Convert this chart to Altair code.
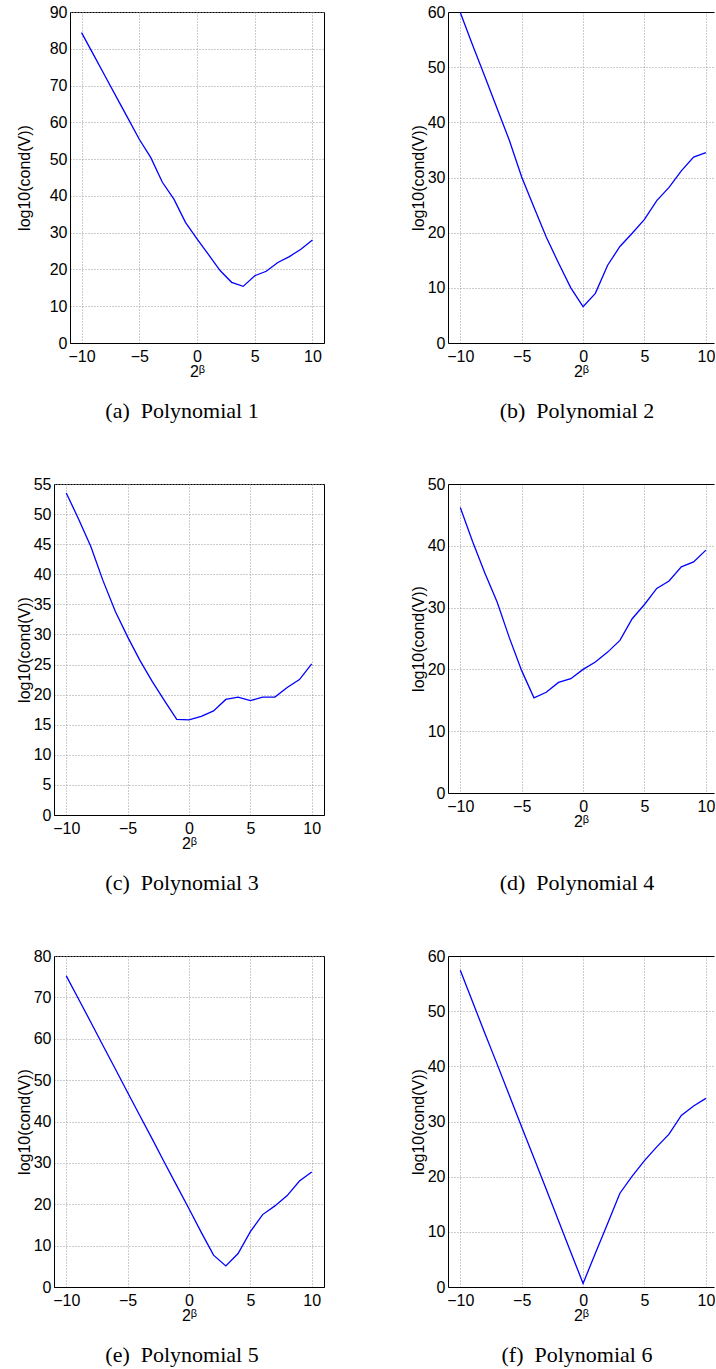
import altair as alt
import pandas as pd

beta = list(range(-10, 11))

poly1 = [84.4, 78.6, 72.8, 67.0, 61.2, 55.4, 50.4, 43.7, 39.1, 32.8, 28.3,
         24.0, 19.7, 16.5, 15.4, 18.3, 19.5, 21.9, 23.5, 25.5, 28.0]
poly2 = [59.9, 54.0, 48.3, 42.5, 36.7, 30.1, 24.6, 19.2, 14.5, 10.0, 6.6,
         9.0, 14.1, 17.5, 19.9, 22.4, 25.8, 28.2, 31.2, 33.7, 34.5]
poly3 = [53.5, 49.2, 44.6, 38.9, 33.8, 29.6, 25.7, 22.2, 19.0, 15.9, 15.8,
         16.4, 17.3, 19.2, 19.6, 19.0, 19.6, 19.6, 21.2, 22.5, 25.1]
poly4 = [46.2, 40.7, 35.6, 30.9, 25.1, 19.8, 15.4, 16.3, 17.9, 18.5, 20.0,
         21.2, 22.8, 24.7, 28.2, 30.5, 33.1, 34.3, 36.6, 37.4, 39.3]
poly5 = [75.2, 69.6, 64.0, 58.3, 52.7, 47.0, 41.4, 35.8, 30.1, 24.5, 18.9,
         13.2, 7.7, 5.1, 8.1, 13.4, 17.5, 19.6, 22.1, 25.6, 27.8]
poly6 = [57.4, 51.7, 46.0, 40.4, 34.7, 29.0, 23.4, 17.7, 12.0, 6.3, 0.65,
         6.1, 11.5, 17.0, 20.1, 22.9, 25.4, 27.7, 31.1, 32.8, 34.2]

captions = ["(a)\u00a0\u00a0Polynomial 1", "(b)\u00a0\u00a0Polynomial 2",
            "(c)\u00a0\u00a0Polynomial 3", "(d)\u00a0\u00a0Polynomial 4",
            "(e)\u00a0\u00a0Polynomial 5", "(f)\u00a0\u00a0Polynomial 6"]
x_ticks = [-10, -5, 0, 5, 10]
x_title = "2\u1d5d"
y_title = "log10(cond(V))"


def panel(vals, ymax, ystep, w, h, xmax, caption, cap_x, cap_y, title_pad, right_col):
    df = pd.DataFrame({"beta": beta, "v": vals})
    xscale = alt.Scale(domain=[-11, xmax], nice=False, zero=False)
    yscale = alt.Scale(domain=[0, ymax], nice=False)
    line = alt.Chart(df).mark_line(color="#0000ff", strokeWidth=1.3, clip=True).encode(
        x=alt.X("beta:Q", scale=xscale,
                axis=alt.Axis(values=x_ticks, format="d", title=x_title,
                              labelPadding=5, titlePadding=-1)),
        y=alt.Y("v:Q", scale=yscale,
                axis=alt.Axis(values=list(range(0, ymax + 1, ystep)), format="d",
                              title=y_title, labelPadding=3, titlePadding=title_pad)),
    )
    cap = alt.Chart(pd.DataFrame({"caption": [caption]})).mark_text(
        font="Liberation Serif", fontSize=22, color="black", align="center",
        baseline="alphabetic",
    ).encode(text="caption:N", x=alt.value(cap_x), y=alt.value(cap_y))
    layers = [line, cap]
    if right_col:
        # top frame line of a panel whose right side is cut by the page edge
        top = alt.Chart(df).mark_point(opacity=0).encode(
            x=alt.X("beta:Q", scale=xscale,
                    axis=alt.Axis(orient="top", labels=False, ticks=False, grid=False,
                                  title=None, domain=True)),
        )
        layers.append(top)
        ch = alt.layer(*layers).resolve_axis(x="independent").properties(
            width=w, height=h, view=alt.ViewBackground(stroke=None))
    else:
        ch = alt.layer(*layers).properties(width=w, height=h)
    return ch


def spacer():
    return alt.Chart(pd.DataFrame({"s": [0]})).mark_point(opacity=0).encode(
        x=alt.X("s:Q", axis=None), y=alt.Y("s:Q", axis=None)
    ).properties(width=1, height=1, view=alt.ViewBackground(stroke=None))


RW = 266            # right-column plot width (cut by the page edge)
RX = -11 + RW / 12.28

a = panel(poly1, 90, 10, 254, 331, 11, captions[0], 112, 406, 17, False)
b = panel(poly2, 60, 10, RW, 331, RX, captions[1], 129, 406, 1, True)
c = panel(poly3, 55, 5, 270, 331, 11, captions[2], 128, 406, 1, False)
d = panel(poly4, 50, 10, RW, 309, RX, captions[3], 129, 406, 1, True)
e = panel(poly5, 80, 10, 270, 331, 11, captions[4], 128, 406, 1, False)
f = panel(poly6, 60, 10, RW, 331, RX, captions[5], 129, 406, 1, True)

row1 = alt.hconcat(alt.hconcat(spacer(), a, spacing=0), b, spacing=85)
row2 = alt.hconcat(alt.hconcat(spacer(), c, spacing=0), d, spacing=85)
row3 = alt.hconcat(alt.hconcat(spacer(), e, spacing=0), f, spacing=85)

chart = alt.vconcat(row1, row2, row3, spacing=52).properties(
    padding={"left": 8, "top": 3, "right": 0, "bottom": 0},
    background="white",
).configure_axis(
    labelFont="Liberation Sans", labelFontSize=16, labelColor="black",
    titleFont="Liberation Sans", titleFontSize=16, titleColor="black",
    titleFontWeight="normal", domainColor="black", domainWidth=1,
    ticks=False, gridColor="#999999", gridDash=[1, 2], gridWidth=1, gridOpacity=1,
).configure_view(
    stroke="black", strokeWidth=1
)

chart.save("out.html", embed_options={"renderer": "svg", "actions": False})
